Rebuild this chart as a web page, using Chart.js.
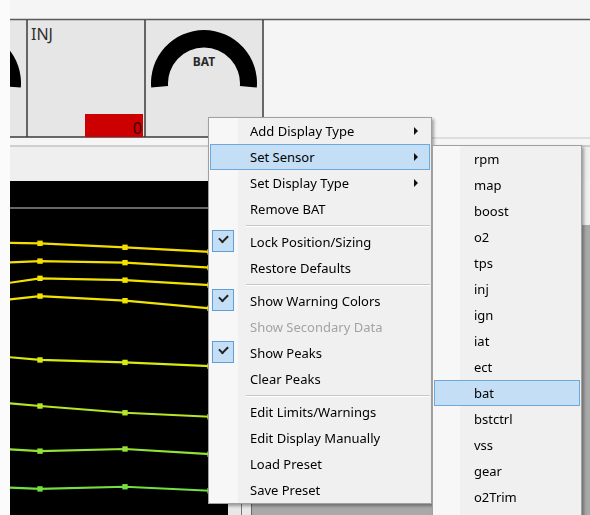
<!DOCTYPE html>
<html>
<head>
<meta charset="utf-8">
<script src="https://cdn.jsdelivr.net/npm/chart.js@4/dist/chart.umd.min.js"></script>
<style>
  body { margin: 0; width: 590px; height: 515px; overflow: hidden; background: #f0f0f0;
         font-family: "Noto Sans", "Open Sans", sans-serif; position: relative; }
  .abs { position: absolute; }
  #plot { left: 10px; top: 181px; width: 218px; height: 334px; background: #000; }
  .menu { position: absolute; background: #f0f0f0; border: 1px solid #a0a0a0;
          box-shadow: 2px 2px 3px rgba(0,0,0,0.35); box-sizing: border-box; font-size: 13px; color: #000; }
  .gutter { position: absolute; left: 0; top: 0; bottom: 0; width: 29px; background: #f7f7f7; }
  .item { position: relative; height: 26px; line-height: 26px; white-space: nowrap; }
  .item.hl::before { content: ""; position: absolute; left: 1px; top: 0; right: 1px; height: 24px;
          background: #c4def5; border: 1px solid #6fa9dc; }
  .item span { position: relative; }
  .item.dis { color: #a3a3a3; }
  .sep { position: relative; height: 7px; }
  .sep::after { content: ""; position: absolute; left: 37px; right: 1px; top: 3px; height: 1px;
          background: #c8c8c8; border-bottom: 1px solid #fff; }
  .chk { position: absolute; left: 3px; top: 1px; width: 20px; height: 20px; background: #c4def5;
         border: 1px solid #5f9fd6; }
  .chk::after { content: ""; position: absolute; left: 6px; top: 4px; width: 7px; height: 4px;
         border-left: 2px solid #222; border-bottom: 2px solid #222; transform: rotate(-45deg); }
  .arrow { position: absolute; left: 205px; top: 9px; width: 0; height: 0;
         border-top: 4px solid transparent; border-bottom: 4px solid transparent; border-left: 4px solid #111; }
</style>
</head>
<body>
<svg class="abs" style="left:0;top:0" width="590" height="181">
  <defs><clipPath id="c1"><rect x="10" y="20" width="17" height="117"/></clipPath></defs>
  <rect x="0" y="0" width="590" height="181" fill="#f5f5f5"/>
  <rect x="10" y="20" width="253" height="117" fill="#e6e6e6"/>
  <rect x="10" y="147" width="580" height="34" fill="#efefef"/>
  <line x1="10" y1="19.5" x2="590" y2="19.5" stroke="#5a5a5a" stroke-width="1.5"/>
  <line x1="27" y1="20" x2="27" y2="137" stroke="#3a3a3a" stroke-width="1.5"/>
  <line x1="145" y1="20" x2="145" y2="137" stroke="#3a3a3a" stroke-width="1.5"/>
  <line x1="263" y1="20" x2="263" y2="137" stroke="#3a3a3a" stroke-width="1.5"/>
  <line x1="10" y1="137" x2="263" y2="137" stroke="#3a3a3a" stroke-width="1.5"/>
  <line x1="263" y1="138" x2="590" y2="138" stroke="#c8c8c8" stroke-width="1"/>
  <line x1="10" y1="146" x2="590" y2="146" stroke="#a8a8a8" stroke-width="1"/>
  <path clip-path="url(#c1)" fill="#000" d="M-84.8,87.6 A53,53 0 1,1 20.8,87.6 L3.9,86.1 A36,36 0 1,0 -67.9,86.1 Z"/>
  <path fill="#000" d="M151.2,87.6 A53,53 0 1,1 256.8,87.6 L239.9,86.1 A36,36 0 1,0 168.1,86.1 Z"/>
  <text x="31" y="40" font-size="16" fill="#2e2e2e">INJ</text>
  <rect x="85" y="114" width="58" height="23" fill="#cc0000"/>
  <text x="142" y="134" font-size="16" fill="#3a0000" text-anchor="end">0</text>
  <text x="204" y="66" font-size="12" font-weight="bold" fill="#2a2a2a" text-anchor="middle">BAT</text>
</svg>
<div class="abs" style="left:228px;top:181px;width:24px;height:334px;background:#e8e8e8"></div>
<div class="abs" style="left:241px;top:181px;width:1px;height:334px;background:#777"></div>
<div class="abs" style="left:251px;top:181px;width:1px;height:334px;background:#666"></div>
<div class="abs" style="left:252px;top:225px;width:338px;height:290px;background:#a9a9a9"></div>
<div class="abs" style="left:0;top:0;width:10px;height:515px;background:#fbfbfb"></div>
<div id="plot" class="abs"><canvas id="chart" width="218" height="334"></canvas></div>
<div id="menu" class="menu" style="left:208px;top:117px;width:224px;height:387px"><div class="gutter"></div></div>
<div id="sub" class="menu" style="left:432px;top:145px;width:150px;height:385px"><div class="gutter" style="width:27px"></div></div>
<script>
// sample positions along the time axis
const samples = [0, 1, 2, 3]
// trace values (0-100 of the plot height)
const trace1 = [88.9, 88.5, 87.2, 85.7]
const trace2 = [81.5, 82.7, 82.2, 80.6]
const trace3 = [73.0, 77.1, 76.5, 74.9]
const trace4 = [68.3, 71.3, 69.8, 67.3]
const trace5 = [53.0, 50.5, 49.7, 48.5]
const trace6 = [37.9, 35.5, 33.3, 32.0]
const trace7 = [22.4, 20.8, 21.5, 19.8]
const trace8 = [9.6, 8.5, 9.2, 7.9]
const traces = [trace1, trace2, trace3, trace4, trace5, trace6, trace7, trace8]
const traceColors = ['#f4de00', '#f4e000', '#f2e200', '#f0e400', '#d8ea10', '#b6e628', '#94e236', '#74de42']

const menuItems = [
  ['Add Display Type', 'arrow'], ['Set Sensor', 'arrow hl'], ['Set Display Type', 'arrow'], ['Remove BAT', ''],
  '-',
  ['Lock Position/Sizing', 'chk'], ['Restore Defaults', ''],
  '-',
  ['Show Warning Colors', 'chk'], ['Show Secondary Data', 'dis'], ['Show Peaks', 'chk'], ['Clear Peaks', ''],
  '-',
  ['Edit Limits/Warnings', ''], ['Edit Display Manually', ''], ['Load Preset', ''], ['Save Preset', '']
]
const sensors = ['rpm', 'map', 'boost', 'o2', 'tps', 'inj', 'ign', 'iat', 'ect', 'bat', 'bstctrl', 'vss', 'gear', 'o2Trim']
const selectedSensor = 'bat'

function fillMenu (el, items, indent) {
  items.forEach(it => {
    const d = document.createElement('div')
    if (it === '-') { d.className = 'sep'; el.appendChild(d); return }
    const [label, flags] = it
    d.className = 'item' + (flags.includes('hl') ? ' hl' : '') + (flags.includes('dis') ? ' dis' : '')
    d.style.paddingLeft = indent + 'px'
    d.innerHTML = '<span>' + label + '</span>'
    if (flags.includes('chk')) d.innerHTML += '<div class="chk"></div>'
    if (flags.includes('arrow')) d.innerHTML += '<div class="arrow"></div>'
    el.appendChild(d)
  })
}
fillMenu(document.getElementById('menu'), menuItems, 41)
fillMenu(document.getElementById('sub'), sensors.map(s => [s, s === selectedSensor ? 'hl' : '']), 41)

const topLine = {
  id: 'topLine',
  afterDraw (chart) {
    const { ctx, chartArea } = chart
    ctx.save()
    ctx.strokeStyle = '#8a8a8a'
    ctx.lineWidth = 1.5
    ctx.beginPath()
    ctx.moveTo(chartArea.left, chartArea.top)
    ctx.lineTo(chartArea.right, chartArea.top)
    ctx.stroke()
    ctx.restore()
  }
}

new Chart(document.getElementById('chart'), {
  type: 'line',
  data: {
    datasets: traces.map((t, i) => ({
      data: samples.map((x, j) => ({ x, y: t[j] })),
      borderColor: traceColors[i],
      backgroundColor: traceColors[i],
      borderWidth: 2.2,
      pointStyle: 'rect',
      pointRadius: 3.8,
      pointBorderWidth: 0,
      tension: 0
    }))
  },
  options: {
    responsive: false,
    animation: false,
    layout: { autoPadding: false, padding: { top: 27, left: 0, right: 0, bottom: 0 } },
    plugins: { legend: { display: false }, tooltip: { enabled: false } },
    scales: {
      x: { type: 'linear', display: false, min: 0.647, max: 3.212 },
      y: { display: false, min: 0, max: 100 }
    }
  },
  plugins: [topLine]
})
</script>
</body>
</html>
